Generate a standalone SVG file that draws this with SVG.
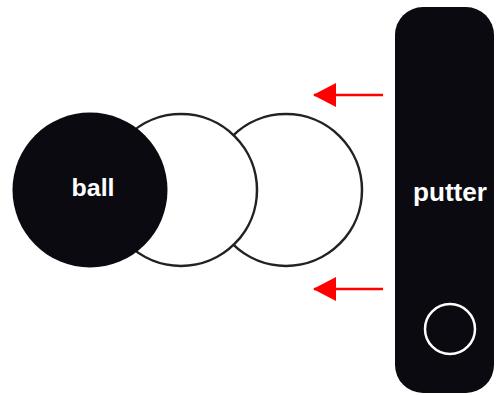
<svg xmlns="http://www.w3.org/2000/svg" width="500" height="395" viewBox="0 0 500 395">
<style>
.ghost{fill:#ffffff;stroke:#222222;stroke-width:2.5}
.solid{fill:#0a0a10}
.lbl{font-family:"Liberation Sans",Arial,sans-serif;font-weight:bold;fill:#ffffff;text-anchor:middle}
.arrow{stroke:#ff0000;stroke-width:2.5;fill:none}
</style>
<defs>
<marker id="ah" viewBox="0 0 24 24" refX="22" refY="12" markerWidth="24" markerHeight="24" markerUnits="userSpaceOnUse" orient="auto">
<path d="M23,12 L0,0 L0,24 Z" fill="#ff0000"/>
</marker>
</defs>
<rect width="500" height="395" fill="#ffffff"/>
<g id="ghost2"><circle class="ghost" cx="286" cy="190" r="76"/></g>
<g id="ghost1"><circle class="ghost" cx="181" cy="190" r="76"/></g>
<g id="ball"><circle class="solid" cx="90" cy="190" r="77.5"/><text class="lbl" x="93" y="196" font-size="24" textLength="43" lengthAdjust="spacingAndGlyphs">ball</text></g>
<g id="putter"><rect class="solid" x="395" y="7" width="99" height="386" rx="28" ry="28"/><text class="lbl" x="450" y="201" font-size="26" textLength="74" lengthAdjust="spacingAndGlyphs">putter</text><circle cx="450" cy="329" r="25" fill="none" stroke="#ffffff" stroke-width="2.5"/></g>
<g id="connectors">
<line class="arrow" x1="383" y1="95" x2="314" y2="95" marker-end="url(#ah)"/>
<line class="arrow" x1="383" y1="289" x2="314" y2="289" marker-end="url(#ah)"/>
</g>
</svg>
